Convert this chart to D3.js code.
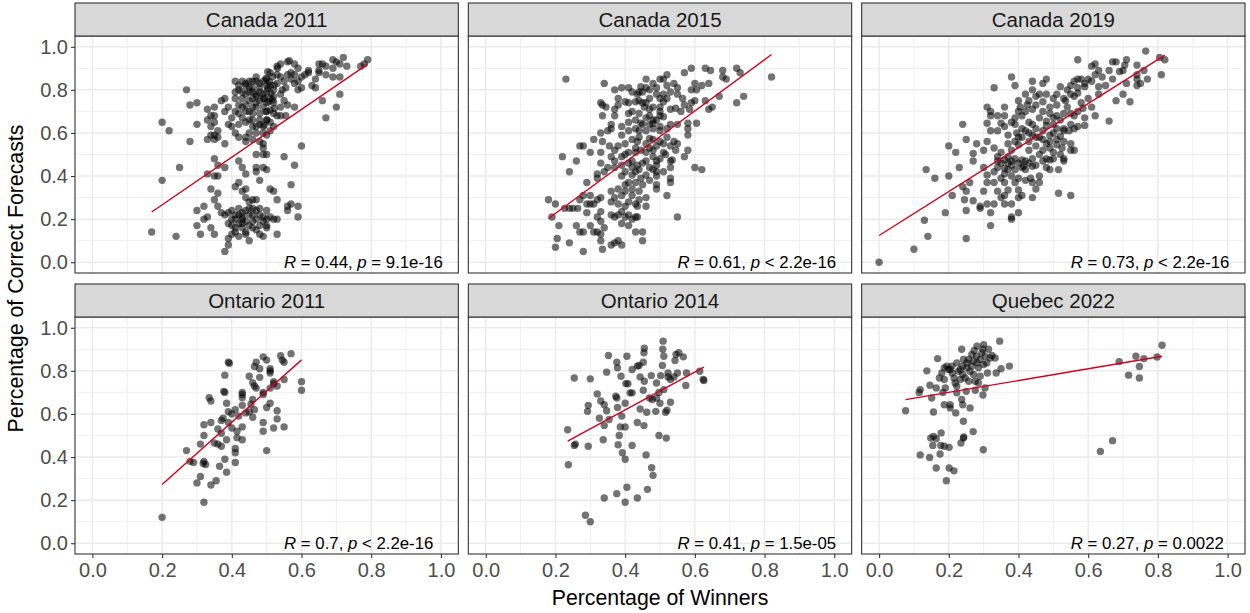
<!DOCTYPE html>
<html>
<head>
<meta charset="utf-8">
<script src="https://cdn.jsdelivr.net/npm/d3@7"></script>
<style>
  body { margin: 0; background: #fff; }
  svg { display: block; }
  text { font-family: "Liberation Sans", Arial, sans-serif; }
</style>
</head>
<body>
<svg id="chart" width="1250" height="613"></svg>
<script>
// ---- data: one [winners share, correct-forecast share] pair per riding ----
const panelTitles = ["Canada 2011", "Canada 2015", "Canada 2019", "Ontario 2011", "Ontario 2014", "Quebec 2022"];

const canada2011 = [
  [0.17,0.14],[0.24,0.12],[0.20,0.38],[0.25,0.44],[0.20,0.65],[0.22,0.61],[0.27,0.80],[0.28,0.73],[0.30,0.74],[0.28,0.56],[0.30,0.64],
  [0.37,0.75],[0.38,0.76],[0.33,0.71],[0.35,0.72],[0.34,0.68],[0.35,0.68],[0.33,0.66],[0.35,0.65],[0.34,0.63],[0.36,0.61],[0.34,0.59],[0.35,0.59],[0.36,0.58],[0.33,0.57],[0.35,0.57],[0.38,0.55],[0.39,0.72],[0.38,0.70],[0.39,0.64],[0.40,0.63],[0.41,0.60],[0.42,0.58],[0.44,0.58],[0.44,0.56],
  [0.35,0.48],[0.36,0.45],[0.38,0.44],[0.33,0.41],[0.35,0.40],[0.36,0.40],[0.34,0.34],[0.36,0.32],[0.35,0.29],[0.36,0.26],
  [0.30,0.24],[0.32,0.26],[0.33,0.21],[0.32,0.20],[0.30,0.17],[0.31,0.13],[0.34,0.16],[0.35,0.13],[0.38,0.05],[0.39,0.08],[0.39,0.11],
  [0.37,0.23],[0.38,0.22],[0.40,0.24],[0.41,0.22],[0.42,0.25],[0.43,0.21],[0.45,0.28],[0.46,0.29],[0.47,0.29],[0.48,0.25],[0.39,0.18],[0.40,0.17],[0.42,0.18],[0.43,0.16],[0.44,0.13],[0.45,0.10],[0.46,0.19],[0.47,0.20],[0.48,0.17],[0.47,0.15],[0.48,0.13],[0.41,0.14],[0.40,0.13],[0.44,0.14],[0.43,0.20],[0.42,0.12],
  [0.44,0.24],[0.45,0.22],[0.46,0.25],[0.49,0.21],[0.49,0.19],[0.45,0.17],[0.41,0.20],[0.43,0.23],
  [0.40,0.20],[0.42,0.22],[0.44,0.19],[0.46,0.22],[0.47,0.24],[0.48,0.22],[0.45,0.25],[0.43,0.18],[0.41,0.16],[0.46,0.16],[0.39,0.23],[0.50,0.20],
  [0.41,0.35],[0.43,0.33],[0.42,0.37],[0.44,0.34],[0.44,0.30],[0.44,0.41],[0.47,0.44],[0.48,0.38],[0.47,0.42],[0.49,0.44],[0.43,0.44],[0.42,0.47],
  [0.41,0.84],[0.43,0.84],[0.45,0.84],[0.47,0.84],[0.42,0.82],[0.44,0.82],[0.46,0.81],[0.48,0.81],[0.41,0.79],[0.43,0.79],[0.45,0.79],[0.47,0.78],[0.49,0.78],[0.41,0.76],[0.43,0.76],[0.46,0.76],[0.48,0.75],[0.42,0.73],[0.44,0.73],[0.47,0.72],[0.49,0.72],[0.41,0.70],[0.44,0.70],[0.46,0.69],[0.48,0.69],[0.43,0.67],[0.45,0.66],[0.48,0.66],[0.42,0.64],[0.46,0.63],[0.49,0.63],[0.47,0.60],[0.49,0.60],[0.46,0.57],[0.48,0.56],[0.49,0.53],[0.47,0.50],[0.49,0.50],
  [0.45,0.75],[0.47,0.77],[0.50,0.79],[0.52,0.80],[0.51,0.76],[0.46,0.72],[0.50,0.70],[0.52,0.74],[0.48,0.83],[0.50,0.82],[0.44,0.78],[0.46,0.79],
  [0.42,0.80],[0.44,0.83],[0.46,0.84],[0.48,0.79],[0.50,0.85],[0.51,0.82],[0.43,0.72],[0.45,0.70],[0.47,0.74],[0.49,0.76],[0.50,0.74],[0.52,0.77],[0.53,0.83],[0.55,0.84],[0.54,0.86],[0.56,0.87],[0.58,0.83],[0.60,0.86],[0.44,0.65],[0.46,0.66],[0.48,0.64],[0.50,0.66],[0.52,0.69],[0.40,0.67],[0.42,0.69],[0.45,0.60],[0.47,0.63],[0.51,0.88],[0.53,0.87],[0.47,0.86],[0.49,0.84],[0.45,0.81],
  [0.53,0.91],[0.54,0.92],[0.56,0.93],[0.565,0.935],[0.58,0.92],[0.59,0.90],[0.57,0.88],[0.57,0.85],[0.58,0.87],[0.59,0.84],[0.61,0.87],[0.62,0.88],[0.62,0.89],[0.65,0.92],[0.66,0.92],[0.67,0.91],[0.65,0.89],[0.65,0.88],[0.64,0.85],[0.67,0.87],[0.69,0.94],[0.70,0.93],[0.71,0.92],[0.72,0.95],[0.73,0.91],[0.69,0.90],[0.69,0.86],[0.71,0.86],[0.77,0.91],[0.78,0.92],[0.79,0.94],
  [0.59,0.80],[0.60,0.81],[0.545,0.80],[0.555,0.81],[0.54,0.78],[0.55,0.75],[0.56,0.73],[0.58,0.72],[0.54,0.72],[0.53,0.68],[0.54,0.68],[0.555,0.68],[0.51,0.65],[0.52,0.63],[0.51,0.61],[0.50,0.59],[0.63,0.82],[0.64,0.81],[0.71,0.78],[0.66,0.75],[0.70,0.72],[0.67,0.67],
  [0.49,0.55],[0.60,0.54],[0.55,0.49],[0.58,0.45],[0.50,0.50],[0.50,0.43],[0.57,0.36],[0.51,0.34],[0.52,0.33],[0.53,0.29],[0.56,0.26],[0.57,0.27],[0.59,0.26],[0.59,0.21],[0.50,0.24],[0.51,0.21],[0.53,0.20],[0.52,0.20],[0.50,0.17],[0.50,0.16],[0.53,0.13],[0.49,0.12],[0.56,0.24],
  [0.498,0.853],[0.508,0.838],[0.517,0.861],[0.503,0.807],[0.512,0.784],[0.522,0.822],[0.493,0.761],[0.505,0.745],[0.517,0.753],[0.498,0.699],[0.51,0.707],[0.522,0.714],[0.501,0.66],[0.493,0.637],[0.531,0.90],[0.503,0.884]
];

const canada2015 = [
  [0.23,0.85],[0.34,0.83],[0.33,0.74],[0.335,0.73],[0.345,0.72],[0.335,0.68],[0.36,0.62],[0.37,0.68],[0.37,0.80],[0.39,0.81],[0.41,0.81],[0.42,0.79],[0.38,0.76],[0.40,0.745],[0.41,0.74],[0.37,0.71],
  [0.36,0.64],[0.35,0.61],[0.33,0.60],[0.335,0.56],[0.355,0.54],[0.33,0.51],[0.30,0.51],[0.31,0.57],[0.27,0.54],[0.28,0.54],[0.22,0.49],[0.26,0.47],[0.24,0.42],[0.33,0.46],[0.36,0.49],[0.37,0.47],[0.35,0.44],[0.32,0.41],[0.34,0.42],[0.32,0.39],[0.29,0.37],
  [0.18,0.29],[0.20,0.27],[0.19,0.21],[0.21,0.17],[0.205,0.11],[0.20,0.07],[0.24,0.09],[0.28,0.05],[0.226,0.25],[0.24,0.25],[0.25,0.25],[0.264,0.25],[0.27,0.29],[0.28,0.31],[0.29,0.27],[0.30,0.27],[0.31,0.27],[0.30,0.31],[0.32,0.29],[0.33,0.30],[0.33,0.235],[0.29,0.23],[0.32,0.21],[0.33,0.19],[0.26,0.17],[0.27,0.14],[0.28,0.14],[0.30,0.17],[0.31,0.14],[0.32,0.14],[0.33,0.13],[0.34,0.16],[0.33,0.10],[0.36,0.08],[0.37,0.09],[0.38,0.10],[0.39,0.08],[0.335,0.06],[0.36,0.22],[0.37,0.21],[0.38,0.22],[0.39,0.235],[0.40,0.21],[0.41,0.22],[0.42,0.20],[0.43,0.21],[0.39,0.18],[0.41,0.17],[0.43,0.14],[0.45,0.10],[0.45,0.14],[0.435,0.21],
  [0.36,0.28],[0.37,0.30],[0.39,0.31],[0.36,0.33],[0.38,0.34],[0.40,0.36],[0.41,0.37],[0.43,0.37],[0.44,0.33],[0.42,0.31],[0.41,0.28],[0.43,0.27],[0.44,0.29],[0.46,0.30],[0.435,0.26],[0.39,0.40],[0.40,0.42],[0.42,0.405],[0.43,0.42],[0.445,0.39],[0.46,0.405],[0.47,0.38],[0.37,0.44],[0.39,0.45],[0.41,0.46],[0.42,0.47],[0.435,0.45],[0.45,0.46],[0.47,0.44],[0.48,0.43],[0.39,0.49],[0.41,0.51],[0.43,0.51],[0.445,0.52],[0.46,0.51],[0.48,0.49],[0.38,0.54],[0.40,0.55],[0.42,0.57],[0.435,0.56],[0.46,0.55],[0.47,0.575],[0.39,0.59],[0.41,0.61],[0.43,0.62],[0.44,0.61],[0.46,0.61],[0.48,0.62],[0.41,0.65],[0.43,0.66],[0.445,0.645],[0.46,0.67],[0.48,0.66],[0.42,0.70],[0.44,0.69],[0.455,0.72],[0.47,0.71],[0.43,0.745],[0.45,0.74],[0.47,0.76],[0.435,0.78],[0.45,0.79],[0.445,0.815],[0.46,0.85],[0.46,0.81],[0.48,0.83],
  [0.44,0.79],[0.47,0.80],[0.49,0.78],[0.50,0.76],[0.46,0.74],[0.48,0.72],[0.50,0.70],[0.47,0.68],[0.49,0.66],[0.45,0.64],[0.47,0.64],[0.50,0.63],[0.44,0.58],[0.48,0.57],[0.50,0.56],[0.43,0.53],[0.47,0.53],[0.42,0.44],[0.44,0.43],[0.46,0.47],[0.40,0.33],[0.42,0.34],[0.45,0.36],[0.38,0.27],[0.40,0.26],[0.46,0.26],[0.52,0.82],[0.55,0.78],[0.53,0.79],[0.56,0.70],[0.52,0.58],[0.51,0.55],[0.48,0.52],[0.49,0.47],[0.40,0.50],[0.37,0.52],[0.39,0.63],[0.41,0.69],[0.38,0.73],[0.44,0.75],
  [0.57,0.88],[0.59,0.90],[0.63,0.90],[0.645,0.89],[0.68,0.89],[0.72,0.90],[0.73,0.88],[0.68,0.86],[0.69,0.85],[0.82,0.86],[0.64,0.83],[0.74,0.77],[0.72,0.74],[0.67,0.77],[0.65,0.72],[0.64,0.71],[0.63,0.75],[0.62,0.82],[0.60,0.83],[0.59,0.80],[0.605,0.80],[0.60,0.75],[0.59,0.74],[0.585,0.71],[0.57,0.73],[0.565,0.76],[0.55,0.81],[0.54,0.83],[0.52,0.87],[0.51,0.85],[0.50,0.85],[0.49,0.81],[0.51,0.78],[0.52,0.76],[0.51,0.745],[0.50,0.72],[0.53,0.71],[0.545,0.715],[0.50,0.68],[0.51,0.675],[0.48,0.645],[0.53,0.64],[0.55,0.64],[0.58,0.645],[0.605,0.645],[0.58,0.62],[0.58,0.59],[0.50,0.61],[0.52,0.62],[0.54,0.56],[0.55,0.55],[0.53,0.54],[0.545,0.52],[0.51,0.51],[0.49,0.54],[0.58,0.52],[0.57,0.49],[0.535,0.475],[0.516,0.50],[0.50,0.48],[0.53,0.47],[0.49,0.45],[0.60,0.44],[0.62,0.43],[0.53,0.44],[0.51,0.42],[0.49,0.42],[0.53,0.39],[0.53,0.37],[0.49,0.36],[0.49,0.34],[0.49,0.40],[0.52,0.31],[0.55,0.21]
];

const canada2019 = [
  [0.0,0.0],[0.10,0.06],[0.14,0.12],[0.13,0.195],[0.25,0.11],[0.19,0.23],[0.25,0.24],[0.135,0.43],[0.16,0.39],[0.20,0.40],[0.21,0.31],[0.23,0.44],[0.20,0.54],[0.22,0.51],[0.24,0.64],[0.25,0.57],[0.27,0.505],[0.27,0.47],[0.24,0.35],[0.245,0.29],[0.25,0.33],[0.26,0.37],[0.27,0.285],[0.29,0.25],[0.29,0.26],[0.32,0.17],[0.32,0.23],[0.31,0.27],[0.30,0.33],[0.28,0.55],[0.30,0.52],[0.31,0.56],[0.31,0.72],[0.31,0.645],[0.32,0.61],[0.32,0.68],[0.33,0.81],[0.32,0.70],[0.34,0.47],[0.30,0.44],[0.31,0.405],[0.31,0.37],[0.33,0.37],[0.35,0.39],[0.36,0.37],[0.34,0.33],[0.35,0.30],[0.33,0.27],[0.36,0.27],[0.38,0.27],[0.38,0.21],[0.40,0.23],[0.38,0.20],
  [0.38,0.86],[0.39,0.82],[0.36,0.72],[0.36,0.68],[0.34,0.68],[0.35,0.645],[0.36,0.63],[0.38,0.65],[0.39,0.64],[0.395,0.60],[0.37,0.59],[0.34,0.61],[0.33,0.53],[0.35,0.51],[0.37,0.55],[0.39,0.56],[0.38,0.52],[0.40,0.545],[0.34,0.49],[0.36,0.475],[0.37,0.46],[0.39,0.48],[0.41,0.475],[0.415,0.445],[0.42,0.47],[0.34,0.44],[0.36,0.435],[0.39,0.43],[0.40,0.39],[0.39,0.37],[0.37,0.335],[0.40,0.335],[0.41,0.31],[0.40,0.30],[0.36,0.31],
  [0.40,0.75],[0.405,0.72],[0.40,0.70],[0.41,0.68],[0.425,0.73],[0.43,0.75],[0.44,0.80],[0.44,0.84],[0.47,0.83],[0.45,0.77],[0.44,0.71],[0.46,0.67],[0.43,0.65],[0.42,0.61],[0.44,0.59],[0.46,0.58],[0.47,0.61],[0.48,0.55],[0.45,0.54],[0.43,0.52],[0.44,0.48],[0.46,0.50],[0.47,0.47],[0.48,0.44],[0.44,0.445],[0.435,0.39],[0.46,0.40],[0.45,0.34],[0.44,0.30],[0.46,0.37],[0.48,0.635],[0.47,0.745],[0.48,0.78],[0.48,0.85],
  [0.35,0.46],[0.37,0.49],[0.38,0.45],[0.36,0.41],[0.42,0.43],[0.43,0.56],[0.45,0.62],[0.41,0.58],
  [0.38,0.47],[0.40,0.46],[0.41,0.44],[0.43,0.46],[0.45,0.45],[0.47,0.52],[0.49,0.56],[0.51,0.57],[0.53,0.62],[0.55,0.64],[0.52,0.66],[0.50,0.64],[0.47,0.57],[0.45,0.58],[0.43,0.60],[0.41,0.62],[0.39,0.67],[0.42,0.70],[0.45,0.73],[0.47,0.70],[0.49,0.69],[0.51,0.73],[0.53,0.76],[0.55,0.78],[0.57,0.81],[0.59,0.83],[0.61,0.84],[0.54,0.80],[0.50,0.76],[0.46,0.78],[0.42,0.78],[0.44,0.64],[0.40,0.58],[0.37,0.43],[0.42,0.38],[0.44,0.37],[0.48,0.48],[0.52,0.50],[0.58,0.74],[0.63,0.78],[0.65,0.82],[0.67,0.85],[0.59,0.67],[0.55,0.69],[0.38,0.40],[0.33,0.42],
  [0.765,0.98],[0.82,0.94],[0.81,0.87],[0.805,0.95],[0.71,0.94],[0.705,0.915],[0.68,0.93],[0.67,0.93],[0.57,0.94],[0.61,0.91],[0.62,0.92],[0.63,0.89],[0.66,0.89],[0.69,0.885],[0.70,0.89],[0.74,0.915],[0.76,0.89],[0.77,0.85],[0.74,0.85],[0.74,0.87],[0.75,0.83],[0.74,0.82],[0.71,0.83],[0.64,0.86],[0.63,0.815],[0.62,0.87],[0.60,0.85],[0.59,0.815],[0.58,0.85],[0.57,0.85],[0.56,0.84],[0.55,0.82],[0.52,0.815],[0.51,0.78],[0.56,0.77],[0.57,0.785],[0.60,0.76],[0.68,0.75],[0.70,0.78],[0.72,0.745],[0.61,0.72],[0.62,0.68],[0.66,0.655],[0.585,0.715],[0.57,0.70],[0.56,0.68],[0.535,0.75],[0.54,0.72],[0.53,0.69],[0.51,0.68],[0.50,0.67],[0.49,0.72],[0.48,0.655],[0.57,0.63],[0.59,0.635],[0.56,0.62],[0.545,0.61],[0.53,0.61],[0.51,0.62],[0.50,0.60],[0.49,0.59],[0.52,0.585],[0.53,0.56],[0.55,0.55],[0.56,0.52],[0.55,0.52],[0.525,0.53],[0.51,0.545],[0.50,0.51],[0.49,0.53],[0.49,0.475],[0.50,0.48],[0.53,0.48],[0.53,0.47],[0.49,0.43],[0.515,0.43],[0.515,0.32],[0.55,0.31]
];

const ontario2011 = [
  [0.20,0.12],[0.32,0.19],[0.27,0.43],[0.28,0.38],[0.29,0.375],[0.31,0.31],[0.30,0.28],[0.34,0.27],[0.355,0.29],[0.32,0.38],[0.325,0.365],[0.318,0.37],[0.365,0.357],[0.38,0.39],[0.385,0.33],[0.41,0.375],[0.41,0.42],[0.41,0.44],[0.31,0.46],[0.32,0.50],[0.32,0.55],[0.34,0.56],[0.35,0.465],[0.36,0.46],[0.37,0.45],[0.36,0.53],[0.37,0.51],[0.385,0.48],[0.37,0.57],[0.375,0.58],[0.39,0.56],[0.40,0.535],[0.415,0.52],[0.415,0.49],[0.43,0.48],[0.43,0.54],[0.42,0.59],[0.41,0.62],[0.39,0.61],[0.40,0.60],[0.385,0.65],[0.38,0.70],[0.377,0.705],[0.335,0.675],[0.34,0.66],[0.38,0.78],[0.39,0.84],[0.393,0.835],[0.43,0.70],[0.43,0.69],[0.43,0.675],[0.43,0.64],[0.44,0.605],[0.45,0.61],[0.455,0.645],[0.46,0.667],[0.45,0.775],[0.46,0.745],[0.465,0.73],[0.47,0.72],[0.465,0.82],[0.47,0.84],[0.48,0.81],[0.49,0.865],[0.50,0.85],[0.51,0.80],[0.51,0.81],[0.48,0.77],[0.49,0.70],[0.49,0.69],[0.51,0.72],[0.51,0.79],[0.52,0.75],[0.52,0.74],[0.54,0.87],[0.55,0.84],[0.545,0.85],[0.57,0.88],[0.55,0.76],[0.53,0.73],[0.51,0.65],[0.50,0.63],[0.465,0.62],[0.46,0.585],[0.49,0.56],[0.49,0.52],[0.52,0.535],[0.53,0.577],[0.53,0.615],[0.55,0.54],[0.50,0.43],[0.60,0.75],[0.60,0.71]
];

const ontario2014 = [
  [0.286,0.13],[0.30,0.10],[0.34,0.21],[0.376,0.23],[0.40,0.19],[0.405,0.26],[0.435,0.21],[0.464,0.25],[0.476,0.35],[0.48,0.315],[0.46,0.41],
  [0.237,0.364],[0.235,0.527],[0.254,0.454],[0.257,0.46],[0.294,0.45],[0.337,0.48],[0.38,0.457],[0.383,0.50],[0.392,0.42],[0.40,0.39],[0.42,0.454],[0.386,0.54],[0.40,0.54],[0.39,0.59],[0.326,0.58],[0.34,0.546],[0.354,0.574],[0.347,0.615],[0.34,0.643],[0.294,0.64],[0.292,0.612],[0.33,0.66],[0.32,0.693],[0.373,0.682],[0.376,0.674],[0.378,0.63],[0.40,0.65],[0.414,0.698],[0.42,0.698],[0.435,0.56],[0.454,0.546],[0.443,0.623],[0.462,0.608],[0.452,0.71],[0.47,0.674],[0.478,0.667],[0.488,0.612],[0.497,0.50],[0.518,0.488],[0.49,0.674],[0.50,0.65],[0.516,0.608],[0.52,0.617],[0.53,0.654],[0.497,0.70],[0.511,0.713],
  [0.254,0.767],[0.30,0.763],[0.347,0.794],[0.352,0.871],[0.376,0.84],[0.378,0.814],[0.388,0.775],[0.402,0.741],[0.408,0.74],[0.405,0.868],[0.42,0.806],[0.435,0.822],[0.44,0.825],[0.443,0.772],[0.455,0.752],[0.452,0.84],[0.454,0.884],[0.455,0.905],[0.475,0.778],[0.49,0.744],[0.502,0.778],[0.507,0.825],[0.511,0.868],[0.508,0.90],[0.509,0.938],[0.523,0.772],[0.523,0.79],[0.53,0.76],[0.54,0.772],[0.55,0.79],[0.543,0.848],[0.554,0.884],[0.567,0.865],[0.546,0.876],[0.576,0.79],[0.574,0.732],[0.614,0.798],[0.624,0.76],[0.626,0.755]
];

const quebec2022 = [
  [0.076,0.615],[0.118,0.713],[0.115,0.70],[0.137,0.80],[0.168,0.857],[0.146,0.733],[0.151,0.674],[0.156,0.609],[0.164,0.721],[0.173,0.767],[0.18,0.79],[0.187,0.76],[0.194,0.822],[0.19,0.721],[0.183,0.70],[0.187,0.643],[0.204,0.628],[0.204,0.643],[0.22,0.605],[0.223,0.698],[0.223,0.729],[0.215,0.767],[0.21,0.79],[0.204,0.806],[0.228,0.798],[0.237,0.90],[0.24,0.822],[0.24,0.783],[0.237,0.667],[0.24,0.643],[0.261,0.628],[0.25,0.705],[0.247,0.767],[0.252,0.814],[0.257,0.853],[0.266,0.876],[0.273,0.895],[0.28,0.868],[0.266,0.822],[0.271,0.783],[0.276,0.752],[0.276,0.71],[0.285,0.814],[0.29,0.775],[0.295,0.884],[0.30,0.922],[0.304,0.868],[0.311,0.79],[0.304,0.721],[0.298,0.688],[0.319,0.86],[0.333,0.86],[0.336,0.79],[0.346,0.938],[0.35,0.81],[0.374,0.822],
  [0.187,0.814],[0.199,0.806],[0.209,0.822],[0.223,0.837],[0.233,0.806],[0.242,0.853],[0.252,0.837],[0.261,0.798],[0.271,0.845],[0.281,0.837],[0.29,0.853],[0.30,0.829],[0.309,0.837],[0.233,0.76],[0.218,0.744],[0.257,0.752],[0.285,0.744],[0.298,0.90],[0.281,0.915],[0.314,0.90],[0.324,0.871],
  [0.164,0.485],[0.178,0.512],[0.148,0.488],[0.156,0.496],[0.154,0.454],[0.177,0.454],[0.187,0.45],[0.201,0.445],[0.118,0.41],[0.145,0.398],[0.175,0.414],[0.164,0.349],[0.201,0.349],[0.215,0.336],[0.193,0.29],[0.235,0.465],[0.242,0.488],[0.243,0.493],[0.27,0.518],[0.242,0.566],[0.299,0.434],
  [0.635,0.426],[0.67,0.476],[0.689,0.843],[0.716,0.78],[0.747,0.767],[0.747,0.82],[0.737,0.868],[0.76,0.857],[0.798,0.864],[0.812,0.919]
];

const panelPoints = [canada2011, canada2015, canada2019, ontario2011, ontario2014, quebec2022];

// least-squares fit per panel
const fitIntercept = [0.045, -0.011, 0.124, -0.016, 0.268, 0.646];
const fitSlope = [1.107, 1.189, 1.021, 1.445, 0.877, 0.273];

// Pearson correlation labels
const corrR = ["0.44", "0.61", "0.73", "0.7", "0.41", "0.27"];
const corrP = ["= 9.1e-16", "< 2.2e-16", "< 2.2e-16", "< 2.2e-16", "= 1.5e-05", "= 0.0022"];

const majorTicks = [0, 0.2, 0.4, 0.6, 0.8, 1.0];
const minorTicks = [0.1, 0.3, 0.5, 0.7, 0.9];

const xTitle = "Percentage of Winners";
const yTitle = "Percentage of Correct Forecasts";

// ---- layout ----
const svg = d3.select("#chart");
const plotLeft = 75, plotRight = 1245, colGap = 10;
const panelW = (plotRight - plotLeft - 2 * colGap) / 3;
const stripH = 33, panelH = 237;
const rowTops = [3, 284];          // top of each strip row
const domain = [-0.05, 1.05];
const fmt = d3.format(".1f");
const FONT = '"Liberation Sans", Arial, sans-serif';

panelPoints.forEach((pts, i) => {
  const col = i % 3, row = Math.floor(i / 3);
  const px0 = plotLeft + col * (panelW + colGap);
  const stripTop = rowTops[row];
  const py0 = stripTop + stripH;

  const x = d3.scaleLinear().domain(domain).range([px0, px0 + panelW]);
  const y = d3.scaleLinear().domain(domain).range([py0 + panelH, py0]);

  const g = svg.append("g");
  const clipId = "clip" + i;
  svg.append("clipPath").attr("id", clipId)
    .append("rect").attr("x", px0).attr("y", py0).attr("width", panelW).attr("height", panelH);

  const grid = g.append("g").attr("clip-path", `url(#${clipId})`);
  // minor grid
  grid.selectAll(".vmin").data(minorTicks).join("line")
    .attr("x1", d => x(d)).attr("x2", d => x(d)).attr("y1", py0).attr("y2", py0 + panelH)
    .attr("stroke", "#ebebeb").attr("stroke-width", 0.8);
  grid.selectAll(".hmin").data(minorTicks).join("line")
    .attr("y1", d => y(d)).attr("y2", d => y(d)).attr("x1", px0).attr("x2", px0 + panelW)
    .attr("stroke", "#ebebeb").attr("stroke-width", 0.8);
  // major grid
  grid.selectAll(".vmaj").data(majorTicks).join("line")
    .attr("x1", d => x(d)).attr("x2", d => x(d)).attr("y1", py0).attr("y2", py0 + panelH)
    .attr("stroke", "#ebebeb").attr("stroke-width", 1.5);
  grid.selectAll(".hmaj").data(majorTicks).join("line")
    .attr("y1", d => y(d)).attr("y2", d => y(d)).attr("x1", px0).attr("x2", px0 + panelW)
    .attr("stroke", "#ebebeb").attr("stroke-width", 1.5);

  // points
  g.append("g").selectAll("circle").data(pts).join("circle")
    .attr("cx", d => x(d[0])).attr("cy", d => y(d[1])).attr("r", 3.7)
    .attr("fill", "#000").attr("fill-opacity", 0.55);

  // regression line across the data range
  const xs = d3.extent(pts, d => d[0]);
  g.append("line")
    .attr("x1", x(xs[0])).attr("y1", y(fitIntercept[i] + fitSlope[i] * xs[0]))
    .attr("x2", x(xs[1])).attr("y2", y(fitIntercept[i] + fitSlope[i] * xs[1]))
    .attr("stroke", "#d0021b").attr("stroke-width", 1.4);

  // correlation label
  const lab = g.append("text")
    .attr("x", x(0.55)).attr("y", y(0) + 5.5)
    .attr("font-size", 16.8).attr("fill", "#000");
  lab.append("tspan").attr("font-style", "italic").text("R");
  lab.append("tspan").text(" = " + corrR[i] + ", ");
  lab.append("tspan").attr("font-style", "italic").text("p");
  lab.append("tspan").text(" " + corrP[i]);

  // panel border
  g.append("rect").attr("x", px0).attr("y", py0).attr("width", panelW).attr("height", panelH)
    .attr("fill", "none").attr("stroke", "#333").attr("stroke-width", 1.1);

  // strip
  g.append("rect").attr("x", px0).attr("y", stripTop).attr("width", panelW).attr("height", stripH)
    .attr("fill", "#d9d9d9").attr("stroke", "#333").attr("stroke-width", 1.1);
  g.append("text").attr("x", px0 + panelW / 2).attr("y", stripTop + stripH / 2)
    .attr("dy", "0.36em").attr("text-anchor", "middle")
    .attr("font-size", 20.5).attr("fill", "#1a1a1a").text(panelTitles[i]);

  // axes
  if (col === 0) {
    const ay = g.append("g").attr("transform", `translate(${px0},0)`)
      .call(d3.axisLeft(y).tickValues(majorTicks).tickFormat(fmt).tickSize(4).tickPadding(3));
    ay.select(".domain").remove();
    ay.selectAll("line").attr("stroke", "#333").attr("stroke-width", 1.1);
    ay.selectAll("text").attr("fill", "#4d4d4d").attr("font-size", 20).attr("font-family", FONT);
  }
  if (row === 1) {
    const ax = g.append("g").attr("transform", `translate(0,${py0 + panelH})`)
      .call(d3.axisBottom(x).tickValues(majorTicks).tickFormat(fmt).tickSize(4).tickPadding(5));
    ax.select(".domain").remove();
    ax.selectAll("line").attr("stroke", "#333").attr("stroke-width", 1.1);
    ax.selectAll("text").attr("fill", "#4d4d4d").attr("font-size", 20).attr("font-family", FONT);
  }
});

// axis titles
svg.append("text").attr("x", (plotLeft + plotRight) / 2).attr("y", 605)
  .attr("text-anchor", "middle").attr("font-size", 21.3).attr("fill", "#000").text(xTitle);
svg.append("text").attr("transform", `translate(23,${(rowTops[0] + rowTops[1] + stripH + panelH) / 2}) rotate(-90)`)
  .attr("text-anchor", "middle").attr("font-size", 21.3).attr("fill", "#000").text(yTitle);
</script>
</body>
</html>
